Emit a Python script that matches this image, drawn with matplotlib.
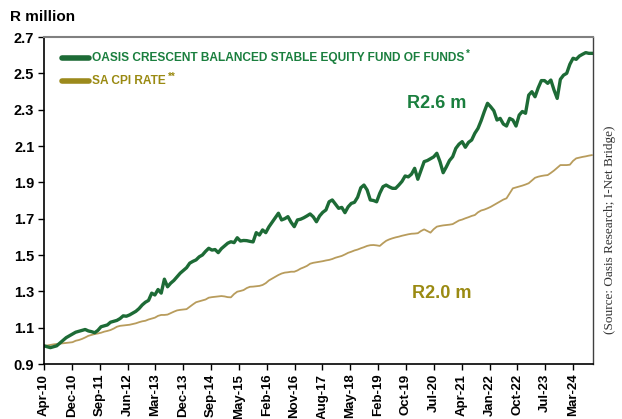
import matplotlib
matplotlib.use("Agg")
import matplotlib.pyplot as plt
import numpy as np

plt.rcParams['font.family'] = ['Liberation Sans', 'DejaVu Sans']

# Monthly values, Apr-2010 .. Sep-2024 (index = months since Apr-2010)
fund = [1.00, 0.995, 0.99, 0.995, 1.00, 1.015, 1.03, 1.045, 1.055, 1.065,
        1.075, 1.08, 1.085, 1.09, 1.082, 1.078, 1.072, 1.085, 1.105, 1.11,
        1.115, 1.13, 1.135, 1.14, 1.15, 1.165, 1.163, 1.17, 1.18, 1.19,
        1.205, 1.225, 1.24, 1.25, 1.29, 1.28, 1.31, 1.29, 1.367, 1.325,
        1.345, 1.36, 1.38, 1.40, 1.415, 1.43, 1.455, 1.465, 1.473, 1.49,
        1.50, 1.52, 1.537, 1.527, 1.53, 1.513, 1.535, 1.55, 1.565, 1.573,
        1.568, 1.595, 1.577, 1.58, 1.579, 1.575, 1.572, 1.623, 1.61, 1.638,
        1.623, 1.655, 1.68, 1.705, 1.73, 1.693, 1.70, 1.711, 1.68, 1.656,
        1.693, 1.697, 1.705, 1.715, 1.726, 1.71, 1.683, 1.715, 1.735, 1.748,
        1.793, 1.803, 1.78, 1.757, 1.762, 1.733, 1.765, 1.784, 1.79, 1.818,
        1.87, 1.885, 1.858, 1.803, 1.80, 1.793, 1.84, 1.876, 1.885, 1.875,
        1.867, 1.867, 1.885, 1.905, 1.935, 1.93, 1.945, 1.977, 1.917, 1.965,
        2.014, 2.02, 2.03, 2.04, 2.06, 2.014, 1.953, 1.985, 2.02, 2.041,
        2.087, 2.11, 2.124, 2.093, 2.12, 2.133, 2.17, 2.197, 2.24, 2.29,
        2.335, 2.316, 2.294, 2.243, 2.252, 2.221, 2.21, 2.252, 2.243, 2.21,
        2.27, 2.29, 2.28, 2.38, 2.399, 2.371, 2.42, 2.46, 2.46, 2.445,
        2.463, 2.408, 2.362, 2.467, 2.49, 2.50, 2.55, 2.583, 2.577, 2.595,
        2.605, 2.614, 2.61, 2.61]

cpi = [1.000, 1.002, 1.005, 1.008, 1.010, 1.012, 1.014, 1.016, 1.018, 1.020,
       1.028, 1.032, 1.038, 1.046, 1.055, 1.06, 1.065, 1.068, 1.072, 1.078,
       1.082, 1.087, 1.095, 1.105, 1.11, 1.112, 1.114, 1.116, 1.12, 1.124,
       1.13, 1.135, 1.138, 1.145, 1.15, 1.155, 1.165, 1.17, 1.17, 1.172,
       1.18, 1.188, 1.195, 1.198, 1.2, 1.202, 1.215, 1.228, 1.24, 1.245,
       1.25, 1.255, 1.265, 1.268, 1.27, 1.272, 1.274, 1.272, 1.268, 1.267,
       1.285, 1.298, 1.302, 1.307, 1.318, 1.325, 1.326, 1.328, 1.33, 1.335,
       1.345, 1.36, 1.37, 1.38, 1.39, 1.398, 1.403, 1.405, 1.408, 1.408,
       1.415, 1.425, 1.432, 1.44, 1.452, 1.457, 1.46, 1.463, 1.466, 1.47,
       1.473, 1.478, 1.485, 1.49, 1.495, 1.503, 1.512, 1.518, 1.525, 1.53,
       1.537, 1.543, 1.55, 1.554, 1.555, 1.553, 1.55, 1.565, 1.578, 1.586,
       1.592, 1.597, 1.601, 1.606, 1.61, 1.614, 1.617, 1.618, 1.62, 1.632,
       1.641, 1.632, 1.623, 1.642, 1.656, 1.66, 1.663, 1.665, 1.667, 1.67,
       1.68, 1.69, 1.695, 1.702, 1.708, 1.715, 1.72, 1.735, 1.745, 1.75,
       1.757, 1.765, 1.775, 1.785, 1.795, 1.805, 1.812, 1.84, 1.867, 1.872,
       1.877, 1.882, 1.888, 1.895, 1.91, 1.925, 1.931, 1.935, 1.938, 1.94,
       1.952, 1.965, 1.98, 1.995, 1.995, 1.995, 1.997, 2.018, 2.032, 2.036,
       2.04, 2.043, 2.047, 2.05]

tick_labels = ["Apr-10", "Dec-10", "Sep-11", "Jun-12", "Mar-13", "Dec-13",
               "Sep-14", "May-15", "Feb-16", "Nov-16", "Aug-17", "May-18",
               "Feb-19", "Oct-19", "Jul-20", "Apr-21", "Jan-22", "Oct-22",
               "Jul-23", "Mar-24"]
y_ticks = [0.9, 1.1, 1.3, 1.5, 1.7, 1.9, 2.1, 2.3, 2.5, 2.7]

series_names = ["OASIS CRESCENT BALANCED STABLE EQUITY FUND OF FUNDS", "SA CPI RATE"]
end_labels = ["R2.6 m", "R2.0 m"]

GREEN_LINE = "#1d6b36"
GREEN_TEXT = "#1a7f3e"
CPI_LINE = "#b89c5c"
CPI_TEXT = "#9a8a12"

fig = plt.figure(figsize=(6.22, 4.19), dpi=100)
ax = fig.add_axes([44/622, 1-364/419, (593-44)/622, (364-37)/419])

x = np.arange(len(fund))
ax.plot(x, cpi, color=CPI_LINE, lw=1.3, solid_capstyle='round')
ax.plot(x, fund, color=GREEN_LINE, lw=2.4, solid_joinstyle='round')

ax.set_xlim(0, 173.3)
ax.set_ylim(0.9, 2.7)
ax.set_yticks(y_ticks)
ax.set_yticklabels([f"{v:.1f}" for v in y_ticks], fontsize=10.5, fontweight='bold')
tick_pos = np.arange(len(tick_labels)) * (167.0 / 19)
ax.set_xticks(tick_pos)
ax.set_xticklabels(tick_labels, rotation=90, fontsize=9.5, fontweight='bold')
ax.tick_params(axis='both', direction='out', length=4, width=1, color='black', pad=3)

for s in ['left', 'bottom']:
    ax.spines[s].set_color('black')
    ax.spines[s].set_linewidth(1.2)
ax.spines['top'].set_color('#808080')
ax.spines['top'].set_linewidth(1.5)
ax.spines['right'].set_color('#404040')
ax.spines['right'].set_linewidth(1.0)

fig.text(10/622, 1-17/419, "R million", fontsize=11, fontweight='bold', va='center', ha='left')

# Legend (manual)
from matplotlib.lines import Line2D
for i, (name, lc, tc, sup) in enumerate([(series_names[0], GREEN_LINE, GREEN_TEXT, "*"),
                                          (series_names[1], "#9c8a1c", CPI_TEXT, "**")]):
    yy = 1 - (58 + 23*i - 37) / 327
    ax.add_line(Line2D([18/549, 45/549], [yy, yy], transform=ax.transAxes,
                       color=lc, lw=4, solid_capstyle='round'))
    t = ax.text(47.5/549, yy, name, transform=ax.transAxes, color=tc, fontsize=8.6,
                fontweight='bold', va='center', ha='left')
    fig.canvas.draw()
    bb = t.get_window_extent().transformed(ax.transAxes.inverted())
    ax.text(bb.x1 + 0.004, yy + 0.012, sup, transform=ax.transAxes, color=tc,
            fontsize=7, fontweight='bold', va='center', ha='left')

ax.text(124, 2.335, end_labels[0], color=GREEN_TEXT, fontsize=13, fontweight='bold',
        ha='center', va='center')
ax.text(125.5, 1.29, end_labels[1], color=CPI_TEXT, fontsize=13, fontweight='bold',
        ha='center', va='center')

fig.text(610/622, 1-230/419, "(Source: Oasis Research; I-Net Bridge)", rotation=90,
         fontsize=9.5, family=['Liberation Serif', 'DejaVu Serif'], color='#333333',
         ha='center', va='center')

fig.savefig("out.png", dpi=100)
